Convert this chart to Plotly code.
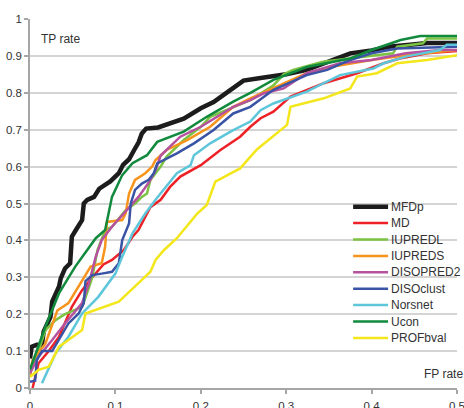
import plotly.graph_objects as go

names = ["MFDp", "MD", "IUPREDL", "IUPREDS", "DISOPRED2", "DISOclust", "Norsnet", "Ucon", "PROFbval"]
colors = ["#1c1c1c", "#ec2227", "#7cc243", "#f7941d", "#b5519f", "#3a54a5", "#5ec6da", "#118a3d", "#f3e71c"]
widths = [4.5, 2.5, 2.5, 2.5, 2.5, 2.5, 2.5, 2.5, 2.5]

mfdp_x = [0, 0.002, 0.008, 0.014, 0.016, 0.024, 0.026, 0.034, 0.036, 0.041, 0.047, 0.049, 0.055, 0.061, 0.063, 0.067, 0.075, 0.081, 0.094, 0.104, 0.109, 0.116, 0.122, 0.127, 0.131, 0.136, 0.15, 0.16, 0.18, 0.2, 0.215, 0.23, 0.25, 0.27, 0.285, 0.3, 0.324, 0.35, 0.375, 0.4, 0.42, 0.445, 0.465, 0.5]
mfdp_y = [0.08, 0.112, 0.117, 0.117, 0.153, 0.193, 0.234, 0.275, 0.297, 0.324, 0.338, 0.41, 0.433, 0.455, 0.5, 0.51, 0.518, 0.54, 0.56, 0.582, 0.605, 0.62, 0.645, 0.665, 0.69, 0.703, 0.706, 0.713, 0.73, 0.758, 0.775, 0.8, 0.833, 0.84, 0.845, 0.85, 0.862, 0.885, 0.907, 0.915, 0.925, 0.93, 0.935, 0.935]

md_x = [0.003, 0.006, 0.01, 0.022, 0.034, 0.049, 0.061, 0.073, 0.086, 0.096, 0.11, 0.12, 0.127, 0.133, 0.141, 0.153, 0.164, 0.176, 0.2, 0.223, 0.246, 0.258, 0.27, 0.285, 0.305, 0.344, 0.383, 0.414, 0.433, 0.465, 0.5]
md_y = [0.0, 0.03, 0.067, 0.10, 0.139, 0.22, 0.265, 0.30, 0.335, 0.347, 0.374, 0.41, 0.428, 0.455, 0.49, 0.51, 0.545, 0.573, 0.604, 0.645, 0.681, 0.708, 0.731, 0.749, 0.79, 0.826, 0.853, 0.88, 0.893, 0.907, 0.913]

iupredl_x = [0, 0.01, 0.018, 0.03, 0.041, 0.061, 0.068, 0.073, 0.079, 0.088, 0.096, 0.112, 0.123, 0.131, 0.137, 0.141, 0.153, 0.16, 0.18, 0.2, 0.211, 0.258, 0.285, 0.297, 0.308, 0.343, 0.39, 0.425, 0.43, 0.46, 0.465, 0.5]
iupredl_y = [0.04, 0.1, 0.157, 0.184, 0.2, 0.22, 0.265, 0.30, 0.374, 0.428, 0.437, 0.482, 0.5, 0.518, 0.527, 0.564, 0.60, 0.627, 0.672, 0.708, 0.735, 0.78, 0.82, 0.85, 0.862, 0.884, 0.898, 0.907, 0.925, 0.934, 0.947, 0.947]

iupreds_x = [0, 0.003, 0.018, 0.032, 0.045, 0.063, 0.071, 0.084, 0.088, 0.09, 0.108, 0.112, 0.116, 0.123, 0.135, 0.143, 0.147, 0.16, 0.184, 0.211, 0.238, 0.258, 0.285, 0.324, 0.355, 0.4, 0.44, 0.48, 0.5]
iupreds_y = [0.03, 0.076, 0.12, 0.21, 0.23, 0.30, 0.329, 0.338, 0.383, 0.45, 0.455, 0.473, 0.527, 0.564, 0.582, 0.6, 0.618, 0.645, 0.672, 0.708, 0.762, 0.785, 0.812, 0.853, 0.871, 0.889, 0.902, 0.911, 0.916]

disopred2_x = [0, 0.01, 0.026, 0.041, 0.061, 0.069, 0.077, 0.084, 0.096, 0.112, 0.127, 0.14, 0.147, 0.153, 0.176, 0.2, 0.238, 0.258, 0.273, 0.297, 0.324, 0.363, 0.4, 0.44, 0.48, 0.5]
disopred2_y = [0.04, 0.085, 0.13, 0.175, 0.23, 0.284, 0.356, 0.401, 0.437, 0.478, 0.518, 0.56, 0.59, 0.63, 0.681, 0.708, 0.762, 0.78, 0.798, 0.812, 0.853, 0.88, 0.889, 0.907, 0.916, 0.916]

disoclust_x = [0, 0.006, 0.008, 0.014, 0.026, 0.034, 0.045, 0.057, 0.063, 0.065, 0.073, 0.084, 0.096, 0.104, 0.108, 0.116, 0.118, 0.123, 0.131, 0.139, 0.145, 0.149, 0.172, 0.192, 0.215, 0.238, 0.258, 0.285, 0.324, 0.348, 0.375, 0.4, 0.43, 0.5]
disoclust_y = [0.017, 0.02, 0.076, 0.10, 0.10, 0.13, 0.175, 0.202, 0.23, 0.29, 0.306, 0.31, 0.315, 0.338, 0.401, 0.446, 0.5, 0.537, 0.554, 0.564, 0.582, 0.609, 0.636, 0.663, 0.699, 0.744, 0.762, 0.808, 0.848, 0.862, 0.889, 0.907, 0.92, 0.925]

norsnet_x = [0.014, 0.03, 0.045, 0.061, 0.08, 0.1, 0.108, 0.12, 0.135, 0.147, 0.172, 0.188, 0.192, 0.211, 0.238, 0.258, 0.27, 0.285, 0.324, 0.363, 0.402, 0.414, 0.44, 0.48, 0.488, 0.5]
norsnet_y = [0.013, 0.094, 0.139, 0.202, 0.247, 0.31, 0.356, 0.419, 0.473, 0.51, 0.582, 0.604, 0.631, 0.663, 0.699, 0.722, 0.753, 0.771, 0.803, 0.848, 0.866, 0.88, 0.898, 0.916, 0.93, 0.93]

ucon_x = [0, 0.018, 0.034, 0.053, 0.077, 0.088, 0.096, 0.108, 0.12, 0.137, 0.149, 0.18, 0.207, 0.238, 0.258, 0.285, 0.324, 0.375, 0.4, 0.434, 0.457, 0.5]
ucon_y = [0.05, 0.166, 0.257, 0.329, 0.406, 0.428, 0.518, 0.577, 0.609, 0.631, 0.667, 0.695, 0.735, 0.776, 0.80, 0.835, 0.87, 0.893, 0.916, 0.943, 0.954, 0.954]

profbval_x = [0, 0.01, 0.022, 0.034, 0.045, 0.061, 0.065, 0.104, 0.131, 0.141, 0.147, 0.157, 0.172, 0.196, 0.207, 0.217, 0.246, 0.266, 0.301, 0.305, 0.344, 0.375, 0.383, 0.406, 0.43, 0.465, 0.5]
profbval_y = [0.03, 0.049, 0.058, 0.112, 0.13, 0.157, 0.202, 0.234, 0.293, 0.315, 0.347, 0.374, 0.406, 0.473, 0.496, 0.559, 0.595, 0.647, 0.713, 0.762, 0.785, 0.812, 0.844, 0.853, 0.88, 0.889, 0.902]

series_x = [mfdp_x, md_x, iupredl_x, iupreds_x, disopred2_x, disoclust_x, norsnet_x, ucon_x, profbval_x]
series_y = [mfdp_y, md_y, iupredl_y, iupreds_y, disopred2_y, disoclust_y, norsnet_y, ucon_y, profbval_y]

x_ticks = [0, 0.1, 0.2, 0.3, 0.4, 0.5]
x_labels = ["0", "0.1", "0.2", "0.3", "0.4", "0.5"]
y_ticks = [0, 0.1, 0.2, 0.3, 0.4, 0.5, 0.6, 0.7, 0.8, 0.9, 1]
y_labels = ["0", "0.1", "0.2", "0.3", "0.4", "0.5", "0.6", "0.7", "0.8", "0.9", "1"]

W, H = 464, 408
# plot area in page pixels
SX0, SX1, SY0, SY1 = 29.5, 457, 19, 388
pw, ph = SX1 - SX0, SY1 - SY0
L, T = SX0, SY0
R, B = W - L - pw, H - T - ph

def px_x(p):
    return (p - SX0) / pw

def px_y(p):
    return (SY1 - p) / ph

fig = go.Figure()
for i in range(len(names)):
    fig.add_trace(go.Scatter(
        x=series_x[i], y=series_y[i], mode="lines", name=names[i],
        line=dict(color=colors[i], width=widths[i]), showlegend=False,
        hoverinfo="skip"))

# Manual legend
font = "Liberation Sans, Arial, sans-serif"
shapes = []
annotations = []
for i, nm in enumerate(names):
    yy = px_y(206.7 + 16.4 * i)
    shapes.append(dict(type="line", xref="paper", yref="paper",
                       x0=px_x(353), x1=px_x(388), y0=yy, y1=yy,
                       line=dict(color=colors[i], width=widths[i])))
    annotations.append(dict(xref="paper", yref="paper", x=px_x(389), y=yy,
                            text=nm, showarrow=False, xanchor="left", yanchor="middle",
                            font=dict(family=font, size=12, color="#333333")))

annotations.append(dict(xref="paper", yref="paper", x=px_x(39), y=px_y(38.5),
                        text="TP rate", showarrow=False, xanchor="left", yanchor="middle",
                        font=dict(family=font, size=12, color="#333333")))
annotations.append(dict(xref="paper", yref="paper", x=px_x(465), y=px_y(374),
                        text="FP rate", showarrow=False, xanchor="right", yanchor="middle",
                        font=dict(family=font, size=12, color="#333333")))

fig.update_layout(
    width=W, height=H,
    margin=dict(l=L, r=R, t=T, b=B, pad=0, autoexpand=False),
    paper_bgcolor="white", plot_bgcolor="white",
    shapes=shapes, annotations=annotations,
    font=dict(family=font, size=11, color="#333333"),
    xaxis=dict(range=[0, 0.5], tickvals=x_ticks, ticktext=x_labels, automargin=False,
               showgrid=False, zeroline=False, showline=True, linecolor="#a6a6a6", linewidth=1.5,
               ticks="outside", ticklen=4, tickcolor="#a6a6a6", tickwidth=1.5,
               ticklabeloverflow="allow",
               tickfont=dict(size=11.5, color="#333333"), ticklabelstandoff=2),
    yaxis=dict(range=[0, 1], tickvals=y_ticks, ticktext=y_labels, automargin=False,
               showgrid=True, gridcolor="#d4d4d4", gridwidth=1.5, zeroline=False,
               showline=True, linecolor="#a6a6a6", linewidth=1.5,
               ticks="outside", ticklen=4, tickcolor="#a6a6a6", tickwidth=1.5,
               ticklabeloverflow="allow",
               tickfont=dict(size=11.5, color="#333333")),
)

fig.write_html("out.html", config={"displayModeBar": False},
               post_script="document.body.style.margin='0';")
